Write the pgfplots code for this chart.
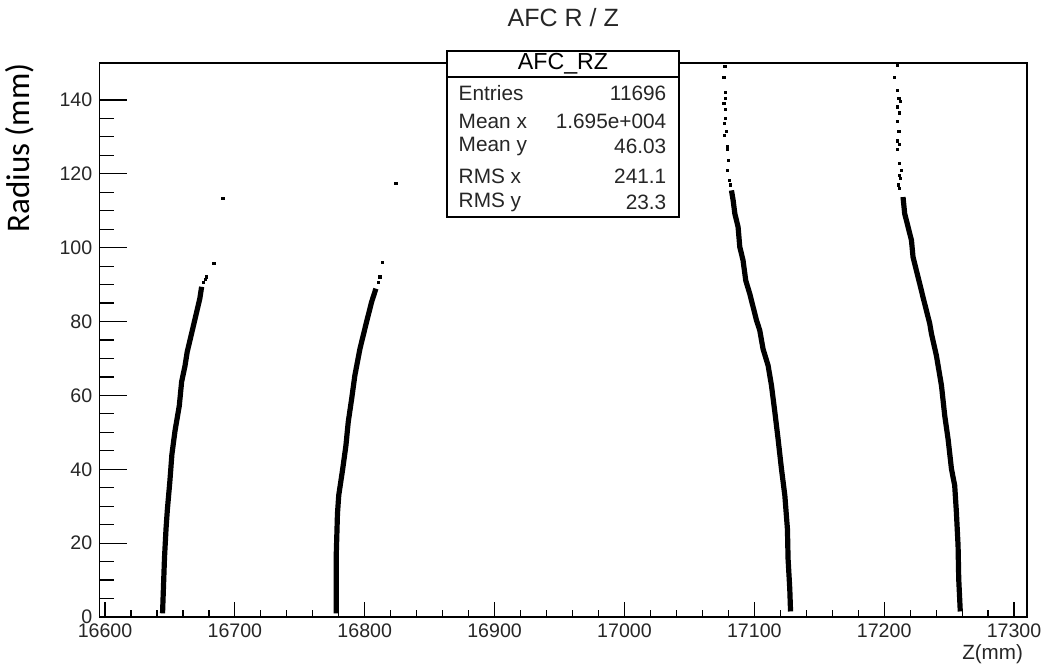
\documentclass[border=0pt]{standalone}
\usepackage{fontspec}
\setmainfont{Liberation Sans}
\newfontfamily\calibri{Carlito}
\usepackage{pgfplots}
\pgfplotsset{compat=1.18}

% bands of dense hits (z, r)
\pgfplotstableread{
z r
16644.3 1
16645.0 8
16645.8 16
16647.0 24
16648.0 29
16650.0 37
16651.5 44
16653.9 50.4
16657.2 57.2
16659.0 63.7
16661.6 68
16663.3 71.8
16667.5 78
16673.0 86.2
16674.4 89.4
}\bandA
\pgfplotstableread{
z r
16778.0 1
16778.0 16
16779.0 28
16780.0 33
16783.0 40
16785.5 46.4
16787.3 52.8
16789.9 59
16792.4 65.4
16796.3 72.6
16801.4 79.9
16805.3 85.3
16808.6 88.9
}\bandB
\pgfplotstableread{
z r
17082.4 115.5
17083.7 112.8
17085.0 109.2
17087.5 105.6
17088.8 100.2
17091.3 96.6
17093.4 91.1
17096.5 87.5
17099.1 83.9
17101.7 80.3
17104.2 77.6
17106.7 72.6
17110.6 68.1
17113.2 62.7
17115.8 55.5
17118.3 48.2
17120.9 40.1
17123.5 32.9
17125.5 23.8
17126.0 15.7
17127.3 7.6
17127.9 1.5
}\bandC
\pgfplotstableread{
z r
17214.5 113.7
17215.8 109.2
17218.4 105.6
17221.0 102
17222.2 97.5
17224.8 93.8
17227.4 90.2
17229.9 86.6
17232.5 83
17235.1 79.4
17236.4 76.7
17240.2 70.8
17244.1 62.7
17246.6 54.6
17249.2 48.2
17251.8 40.1
17254.3 35.6
17255.6 28.4
17256.9 19.3
17257.4 10.3
17258.6 1.5
}\bandD
% isolated hits
\pgfplotstableread{
z r
16676.0 90.5
16677.5 91.5
16678.3 92.1
16683.9 95.7
16690.8 113.3
16810.5 90.5
16811.7 92.1
16813.8 96.1
16824.0 117.3
17077.3 149
17076.5 146
17078.0 142
17078.0 140.5
17076.5 139
17078.0 137.5
17078.0 135
17077.0 133.6
17078.5 131.4
17077.0 130.5
17079.5 127.5
17079.5 126.5
17080.1 123.7
17079.0 121
17080.6 118.2
17081.5 117
17209.9 149.4
17208.1 146
17209.9 142.6
17211.4 140.4
17212.3 139.5
17209.9 138.1
17212.0 136.5
17209.9 134.1
17211.4 131.4
17209.9 128.9
17212.0 128
17209.9 126.6
17212.0 122.8
17213.3 121
17212.0 119.5
17212.5 118.7
17211.0 117
17212.0 116
}\sparse

\begin{document}
\begin{tikzpicture}
\begin{axis}[
    scale only axis,
    width=464pt, height=277pt,
    xmin=16595.6, xmax=17310.2,
    ymin=0, ymax=150,
    xtick={16600,16700,...,17300},
    ytick={0,20,...,140},
    scaled x ticks=false,
    minor x tick num=4,
    minor y tick num=3,
    xtick pos=left, ytick pos=left,
    tick align=inside,
    xtick style={black, line width=0.6pt, /pgfplots/major tick length=7.5pt, /pgfplots/minor tick length=3.6pt},
    ytick style={black, line width=0.6pt, /pgfplots/major tick length=14pt, /pgfplots/minor tick length=7.5pt},
    axis line style={black, line width=0.8pt},
    tick label style={font=\fontsize{9.8}{11}\selectfont, text=black!85},
    /pgf/number format/assume math mode=true,
    /pgf/number format/1000 sep={},
    clip=false,
]
\addplot[black, line width=2.6pt] table[x=z, y=r] {\bandA};
\addplot[black, line width=2.6pt] table[x=z, y=r] {\bandB};
\addplot[black, line width=2.6pt] table[x=z, y=r] {\bandC};
\addplot[black, line width=2.6pt] table[x=z, y=r] {\bandD};
\addplot[only marks, mark=square*, mark size=0.55pt, black] table[x=z, y=r] {\sparse};

\coordinate (bsw) at (rel axis cs:0.3747,0.722);
\coordinate (bne) at (rel axis cs:0.6247,1.0217);
\coordinate (bsepw) at (rel axis cs:0.3747,0.9747);
\coordinate (bsepe) at (rel axis cs:0.6247,0.9747);
\coordinate (btitle) at (rel axis cs:0.4997,0.998);
\coordinate (ttl) at (rel axis cs:0.5,1);
\coordinate (ylab) at (rel axis cs:0,1);
\coordinate (xlab) at (rel axis cs:1,0);
\coordinate (sw) at (rel axis cs:0,0);
\coordinate (La) at (rel axis cs:0.3869,0.9453);
\coordinate (Ra) at (rel axis cs:0.6114,0.9453);
\coordinate (Lb) at (rel axis cs:0.3869,0.894);
\coordinate (Rb) at (rel axis cs:0.6114,0.894);
\coordinate (Lc) at (rel axis cs:0.3869,0.850);
\coordinate (Rc) at (rel axis cs:0.6114,0.850);
\coordinate (Ld) at (rel axis cs:0.3869,0.796);
\coordinate (Rd) at (rel axis cs:0.6114,0.796);
\coordinate (Le) at (rel axis cs:0.3869,0.748);
\coordinate (Re) at (rel axis cs:0.6114,0.748);
\end{axis}

% title
\node[font=\fontsize{12.5}{14}\selectfont, text=black!85, inner sep=0pt] at ([yshift=22.5pt]ttl) {AFC R / Z};

% statistics box
\draw[black, line width=0.8pt, fill=white] (bsw) rectangle (bne);
\draw[black, line width=0.8pt] (bsepw) -- (bsepe);
\node[font=\fontsize{11.6}{13}\selectfont] at (btitle) {AFC\_RZ};
\begin{scope}[every node/.style={font=\fontsize{10.4}{12}\selectfont, inner sep=0pt, text=black!85}]
\node[anchor=west] at (La) {Entries};
\node[anchor=east] at (Ra) {11696};
\node[anchor=west] at (Lb) {Mean x};
\node[anchor=east] at (Rb) {1.695e+004};
\node[anchor=west] at (Lc) {Mean y};
\node[anchor=east] at (Rc) {46.03};
\node[anchor=west] at (Ld) {RMS x};
\node[anchor=east] at (Rd) {241.1};
\node[anchor=west] at (Le) {RMS y};
\node[anchor=east] at (Re) {23.3};
\end{scope}

% axis titles
\node[font=\calibri\fontsize{16.5}{18}\selectfont, rotate=90, anchor=east, inner sep=0pt] at ([xshift=-39.65pt]ylab) {Radius (mm)};
\node[font=\fontsize{10.3}{12}\selectfont, anchor=east, inner sep=0pt, text=black!85] at ([xshift=-2pt, yshift=-18.5pt]xlab) {Z(mm)};

\pgfresetboundingbox
\useasboundingbox ([xshift=-49.65pt, yshift=-25.5pt]sw) rectangle ++(521.5pt,334pt);
\end{tikzpicture}
\end{document}
